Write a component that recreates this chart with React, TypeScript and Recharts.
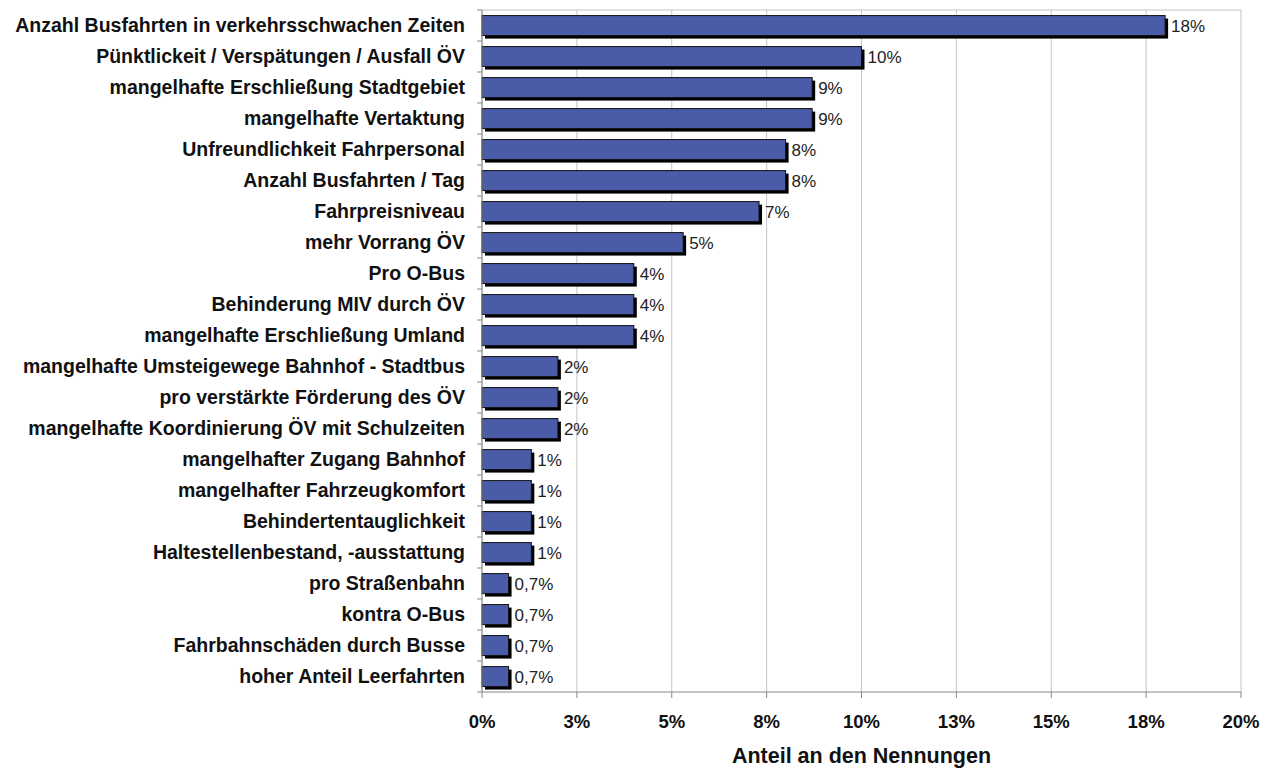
import React from "react";
import { BarChart, Bar, XAxis, YAxis, CartesianGrid, LabelList } from "recharts";

const categories = [
  "Anzahl Busfahrten in verkehrsschwachen Zeiten",
  "Pünktlickeit / Verspätungen / Ausfall ÖV",
  "mangelhafte Erschließung Stadtgebiet",
  "mangelhafte Vertaktung",
  "Unfreundlichkeit Fahrpersonal",
  "Anzahl Busfahrten / Tag",
  "Fahrpreisniveau",
  "mehr Vorrang ÖV",
  "Pro O-Bus",
  "Behinderung MIV durch ÖV",
  "mangelhafte Erschließung Umland",
  "mangelhafte Umsteigewege Bahnhof - Stadtbus",
  "pro verstärkte Förderung des ÖV",
  "mangelhafte Koordinierung ÖV mit Schulzeiten",
  "mangelhafter Zugang Bahnhof",
  "mangelhafter Fahrzeugkomfort",
  "Behindertentauglichkeit",
  "Haltestellenbestand, -ausstattung",
  "pro Straßenbahn",
  "kontra O-Bus",
  "Fahrbahnschäden durch Busse",
  "hoher Anteil Leerfahrten",
];

const shares = [18.0, 10.0, 8.7, 8.7, 8.0, 8.0, 7.3, 5.3, 4.0, 4.0, 4.0, 2.0, 2.0, 2.0, 1.3, 1.3, 1.3, 1.3, 0.7, 0.7, 0.7, 0.7];

const valueLabels = ["18%", "10%", "9%", "9%", "8%", "8%", "7%", "5%", "4%", "4%", "4%", "2%", "2%", "2%", "1%", "1%", "1%", "1%", "0,7%", "0,7%", "0,7%", "0,7%"];

const xTicks = [0, 2.5, 5, 7.5, 10, 12.5, 15, 17.5, 20];

const data = categories.map((name, i) => ({ name, share: shares[i], label: valueLabels[i] }));

const FONT = '"Liberation Sans", Arial, sans-serif';
const BAND = 682 / categories.length;

const ShadowBar = (props: any) => {
  const { x, y, width, height } = props;
  if (!width || width <= 0) return null;
  return (
    <g>
      <rect x={x + 3} y={y + 3} width={width} height={height} fill="#000" />
      <rect x={x} y={y} width={width} height={height} fill="#4a5ba8" stroke="#111" strokeWidth={1} />
    </g>
  );
};

const CategoryTick = (props: any) => {
  const { x, y, payload, index } = props;
  return (
    <g>
      <line x1={x - 5} x2={x} y1={y - BAND / 2} y2={y - BAND / 2} stroke="#888" />
      {index === categories.length - 1 && (
        <line x1={x - 5} x2={x} y1={y + BAND / 2} y2={y + BAND / 2} stroke="#888" />
      )}
      <text x={x - 17} y={y} dy="0.35em" textAnchor="end" fontFamily={FONT} fontWeight="bold" fontSize={19.5} fill="#111">
        {payload.value}
      </text>
    </g>
  );
};

export default function App() {
  return (
    <BarChart
      width={1257}
      height={761}
      data={data}
      layout="vertical"
      margin={{ top: 2, right: 24, bottom: 0, left: 0 }}
      barCategoryGap="18%"
    >
      <CartesianGrid
        stroke="#c4c4c4"
        horizontalCoordinatesGenerator={(p: any) => [p.offset.top]}
      />
      <XAxis
        type="number"
        domain={[0, 20]}
        ticks={xTicks}
        tickFormatter={(v: number) => `${Math.round(v)}%`}
        height={77}
        tickSize={6}
        tickMargin={17}
        stroke="#888"
        tick={{ fill: "#111", fontFamily: FONT, fontWeight: "bold", fontSize: 18.5 }}
        label={{
          value: "Anteil an den Nennungen",
          position: "insideBottom",
          offset: 6,
          fill: "#111",
          fontFamily: FONT,
          fontWeight: "bold",
          fontSize: 21.5,
        }}
      />
      <YAxis
        type="category"
        dataKey="name"
        width={474}
        tickLine={false}
        tickSize={0}
        tickMargin={0}
        stroke="#888"
        interval={0}
        tick={<CategoryTick />}
      />
      <Bar dataKey="share" shape={<ShadowBar />} isAnimationActive={false}>
        <LabelList
          dataKey="label"
          position="right"
          offset={6}
          fill="#222"
          fontFamily={FONT}
          fontSize={17}
        />
      </Bar>
    </BarChart>
  );
}
